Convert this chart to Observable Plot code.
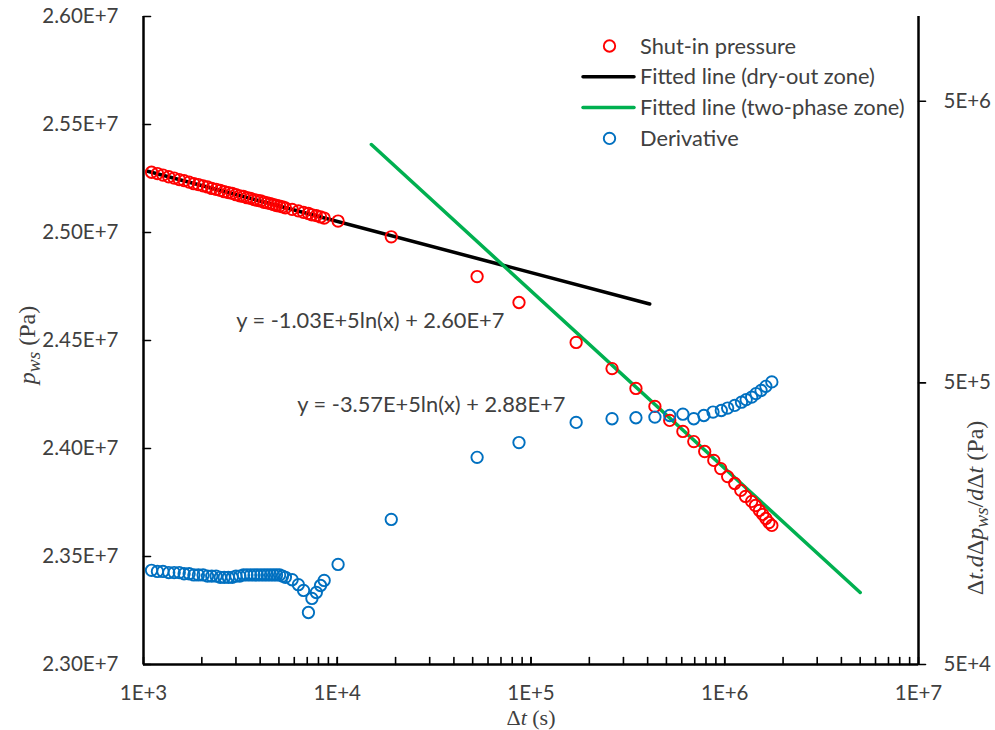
<!DOCTYPE html>
<html>
<head>
<meta charset="utf-8">
<script src="https://cdn.jsdelivr.net/npm/d3@7"></script>
<script src="https://cdn.jsdelivr.net/npm/@observablehq/plot@0.6"></script>
<style>
  body { margin: 0; background: #fff; }
  #chart svg { display: block; }
</style>
</head>
<body>
<div id="chart"></div>
<script>
// Shut-in pressure, elapsed time Δt (s) and pressure p_ws (Pa)
const pressureTime = [
  1100, 1180, 1260, 1350, 1440, 1530, 1620, 1720, 1820, 1920, 2030, 2140, 2250, 2370,
  2490, 2610, 2740, 2870, 3000, 3140, 3280, 3420, 3570, 3720, 3870, 4030, 4190, 4350,
  4520, 4690, 4860, 5040, 5220, 5400, 5850, 6300, 6700, 7100, 7400, 7800, 8200, 8560,
  1.01e4, 1.90e4, 5.27e4, 8.67e4, 1.71e5, 2.62e5, 3.48e5, 4.36e5, 5.20e5, 6.08e5, 6.92e5,
  7.88e5, 8.78e5, 9.53e5, 1.035e6, 1.126e6, 1.21e6, 1.28e6, 1.377e6, 1.44e6, 1.51e6,
  1.57e6, 1.63e6, 1.69e6, 1.75e6
];
const pressureValue = [
  2.5279e7, 2.5273e7, 2.5266e7, 2.5258e7, 2.5252e7, 2.5245e7, 2.5240e7, 2.5233e7, 2.5226e7,
  2.5222e7, 2.5216e7, 2.5211e7, 2.5204e7, 2.5200e7, 2.5195e7, 2.5189e7, 2.5185e7, 2.5181e7,
  2.5175e7, 2.5170e7, 2.5167e7, 2.5161e7, 2.5158e7, 2.5152e7, 2.5149e7, 2.5146e7, 2.5140e7,
  2.5137e7, 2.5134e7, 2.5129e7, 2.5125e7, 2.5122e7, 2.5119e7, 2.5114e7, 2.5107e7, 2.5100e7,
  2.5093e7, 2.5088e7, 2.5082e7, 2.5078e7, 2.5072e7, 2.5067e7,
  2.5053e7, 2.4980e7, 2.4796e7, 2.4676e7, 2.4491e7, 2.4370e7, 2.4278e7, 2.4195e7, 2.4130e7,
  2.4079e7, 2.4032e7, 2.3986e7, 2.3945e7, 2.3907e7, 2.3870e7, 2.3838e7, 2.3806e7, 2.3778e7,
  2.3755e7, 2.3736e7, 2.3713e7, 2.3695e7, 2.3676e7, 2.3657e7, 2.3644e7
];

// Pressure derivative Δt·dΔp_ws/dΔt (Pa)
const derivTime = [
  1100, 1180, 1260, 1350, 1440, 1530, 1620, 1720, 1820, 1920, 2030, 2140, 2250, 2370,
  2490, 2610, 2740, 2870, 3000, 3140, 3280, 3420, 3570, 3720, 3870, 4030, 4190, 4350,
  4520, 4690, 4860, 5040, 5220, 5400, 5850, 6300, 6700, 7100, 7400, 7800, 8200, 8560,
  1.01e4, 1.90e4, 5.27e4, 8.67e4, 1.71e5, 2.62e5, 3.48e5, 4.36e5, 5.20e5, 6.08e5, 6.92e5,
  7.80e5, 8.70e5, 9.60e5, 1.035e6, 1.126e6, 1.22e6, 1.29e6, 1.377e6, 1.45e6, 1.54e6,
  1.63e6, 1.75e6
];
const derivValue = [
  1.08e5, 1.07e5, 1.07e5, 1.06e5, 1.06e5, 1.06e5, 1.05e5, 1.05e5, 1.04e5, 1.04e5, 1.04e5,
  1.03e5, 1.03e5, 1.03e5, 1.02e5, 1.02e5, 1.02e5, 1.02e5, 1.03e5, 1.03e5, 1.04e5, 1.04e5,
  1.04e5, 1.04e5, 1.04e5, 1.04e5, 1.04e5, 1.04e5, 1.04e5, 1.04e5, 1.04e5, 1.04e5, 1.03e5,
  1.02e5, 1.00e5, 9.6e4, 9.16e4, 7.65e4, 8.58e4, 9.01e4, 9.54e4, 9.94e4,
  1.133e5, 1.637e5, 2.72e5, 3.07e5, 3.62e5, 3.73e5, 3.76e5, 3.78e5, 3.83e5, 3.87e5, 3.73e5,
  3.83e5, 3.94e5, 3.99e5, 4.07e5, 4.16e5, 4.27e5, 4.36e5, 4.45e5, 4.58e5, 4.70e5, 4.86e5,
  5.04e5
];

// Semilog fits p = a·ln(Δt) + b, and the Δt span each one is drawn over
const dryFitCoef = [-1.03e5, 2.600e7];
const dryFitSpan = [1.05e3, 4.1e5];
const twoPhaseFitCoef = [-3.57e5, 2.884e7];
const twoPhaseFitSpan = [1.5e4, 5.0e6];

// Where the fit equations are written (Δt, p)
const dryLabelAt = [3.01e3, 2.4588e7];
const twoPhaseLabelAt = [6.22e3, 2.4203e7];

// Axes
const xTicks = [1e3, 1e4, 1e5, 1e6, 1e7];
const xTickLabels = ["1E+3", "1E+4", "1E+5", "1E+6", "1E+7"];
const pTicks = [2.30e7, 2.35e7, 2.40e7, 2.45e7, 2.50e7, 2.55e7, 2.60e7];
const pTickLabels = ["2.30E+7", "2.35E+7", "2.40E+7", "2.45E+7", "2.50E+7", "2.55E+7", "2.60E+7"];
const pDomain = [2.30e7, 2.60e7];
const dDomain = [5e4, 1e7];
const dTicks = [5e4, 5e5, 5e6];
const dTickLabels = ["5E+4", "5E+5", "5E+6"];

// The derivative has its own log axis on the right; place it on the shared y scale
const dToP = d3.scaleLog().domain(dDomain).range(pDomain);

const fmtCoef = v => v.toExponential(2).toUpperCase();
const fitLine = ([a, b], span) => span.map(t => ({t, p: a * Math.log(t) + b}));
const fitText = ([a, b]) => `y = ${fmtCoef(a)}ln(x) + ${fmtCoef(b)}`;

const pressure = pressureTime.map((t, i) => ({t, p: pressureValue[i]}));
const derivative = derivTime.map((t, i) => ({t, d: derivValue[i]}));
const minorX = d3.range(3, 7).flatMap(e => d3.range(1, 11).map(k => k * 10 ** e));

const FONT = "Lato, 'Open Sans', sans-serif";
const TXT = "#404040";
const tickShape = {draw(ctx, l) { ctx.moveTo(0, 0); ctx.lineTo(0, -l); }};

const chart = Plot.plot({
  width: 995,
  height: 730,
  marginTop: 16,
  marginBottom: 66,
  marginLeft: 143,
  marginRight: 77,
  style: {fontFamily: FONT, background: "#fff"},
  x: {type: "log", domain: [1e3, 1e7]},
  y: {domain: pDomain},
  marks: [
    // axis lines (no top border)
    Plot.ruleY([pDomain[0]], {stroke: "#000", strokeWidth: 2.5}),
    Plot.ruleX([1e3], {stroke: "#000", strokeWidth: 2.5}),
    Plot.ruleX([1e7], {stroke: "#000", strokeWidth: 2.5}),
    // inward ticks on the Δt axis
    Plot.vector(minorX, {x: d => d, frameAnchor: "bottom", length: 7, rotate: 0, anchor: "start",
      shape: tickShape, stroke: "#000", strokeWidth: 1.6}),
    // inward ticks on the pressure axis, outward ticks on the derivative axis
    Plot.vector(pTicks, {y: d => d, frameAnchor: "left", length: 7, rotate: 90, anchor: "start",
      shape: tickShape, stroke: "#000", strokeWidth: 1.6}),
    Plot.vector(dTicks, {y: d => dToP(d), frameAnchor: "right", length: 7, rotate: 90, anchor: "start",
      shape: tickShape, stroke: "#000", strokeWidth: 1.6}),
    Plot.axisX({ticks: xTicks, tickSize: 0, tickPadding: 21, label: null, fontSize: 20.5, fill: TXT,
      tickFormat: d => xTickLabels[xTicks.indexOf(d)]}),
    Plot.axisY({ticks: pTicks, tickSize: 0, tickPadding: 25, label: null, fontSize: 20.5, fill: TXT,
      tickFormat: d => pTickLabels[pTicks.findIndex(v => Math.abs(v - d) < 1)]}),
    Plot.axisY({anchor: "right", ticks: dTicks.map(dToP), tickSize: 0, tickPadding: 25, label: null,
      fontSize: 20.5, fill: TXT,
      tickFormat: d => dTickLabels[dTicks.findIndex(v => Math.abs(dToP(v) - d) < 1)]}),
    // fitted lines
    Plot.line(fitLine(dryFitCoef, dryFitSpan), {x: "t", y: "p", stroke: "#000", strokeWidth: 3.5}),
    Plot.line(fitLine(twoPhaseFitCoef, twoPhaseFitSpan), {x: "t", y: "p", stroke: "#00B050", strokeWidth: 3.5}),
    // measured data
    Plot.dot(pressure, {x: "t", y: "p", r: 5.7, stroke: "#FF0000", strokeWidth: 1.9, fill: "none"}),
    Plot.dot(derivative, {x: "t", y: d => dToP(d.d), r: 5.7, stroke: "#0070C0", strokeWidth: 1.9, fill: "none"}),
    // fit equations
    Plot.text([dryLabelAt, twoPhaseLabelAt], {
      x: d => d[0], y: d => d[1],
      text: (d, i) => fitText(i === 0 ? dryFitCoef : twoPhaseFitCoef),
      textAnchor: "start", fontSize: 21.8, fill: TXT
    })
  ]
});

document.getElementById("chart").appendChild(chart);

// Axis titles (serif, with italic symbols and subscripts) and the legend
const svg = d3.select(chart);
const SERIF = "'Liberation Serif', 'DejaVu Serif', serif";

function richText(sel, parts) {
  let wasSub = false;
  parts.forEach(([s, italic, sub]) => {
    const t = sel.append("tspan").text(s);
    if (italic) t.attr("font-style", "italic");
    if (sub) t.attr("font-size", "0.8em").attr("dy", "0.25em");
    else if (wasSub) t.attr("dy", "-0.2em");
    wasSub = !!sub;
  });
}

const xTitle = svg.append("text").attr("x", 531).attr("y", 725).attr("text-anchor", "middle")
  .attr("font-family", SERIF).attr("font-size", 22).attr("fill", TXT);
richText(xTitle, [["Δ"], ["t", true], [" (s)"]]);

const yTitle = svg.append("text").attr("transform", "translate(35,345) rotate(-90)")
  .attr("text-anchor", "middle").attr("font-family", SERIF).attr("font-size", 24).attr("fill", TXT);
richText(yTitle, [["p", true], ["ws", true, true], [" (Pa)"]]);

const y2Title = svg.append("text").attr("transform", "translate(983,508) rotate(-90)")
  .attr("text-anchor", "middle").attr("font-family", SERIF).attr("font-size", 24).attr("fill", TXT);
richText(y2Title, [["Δ"], ["t", true], ["."], ["d", true], ["Δ"], ["p", true], ["ws", true, true],
  ["/"], ["d", true], ["Δ"], ["t", true], [" (Pa)"]]);

const legendItems = [
  {label: "Shut-in pressure", kind: "dot", color: "#FF0000"},
  {label: "Fitted line (dry-out zone)", kind: "line", color: "#000"},
  {label: "Fitted line (two-phase zone)", kind: "line", color: "#00B050"},
  {label: "Derivative", kind: "dot", color: "#0070C0"}
];
const legend = svg.append("g").attr("transform", "translate(583,46)");
legendItems.forEach((item, i) => {
  const g = legend.append("g").attr("transform", `translate(0,${i * 30.8})`);
  if (item.kind === "dot") {
    g.append("circle").attr("cx", 26.5).attr("cy", 0).attr("r", 5.7)
      .attr("fill", "none").attr("stroke", item.color).attr("stroke-width", 1.9);
  } else {
    g.append("line").attr("x1", 0).attr("x2", 51).attr("y1", 0).attr("y2", 0)
      .attr("stroke", item.color).attr("stroke-width", 3.5).attr("stroke-linecap", "round");
  }
  g.append("text").attr("x", 57).attr("y", 0).attr("dy", "0.35em").attr("text-anchor", "start")
    .attr("font-family", FONT).attr("font-size", 21.8).attr("fill", TXT).text(item.label);
});
</script>
</body>
</html>
